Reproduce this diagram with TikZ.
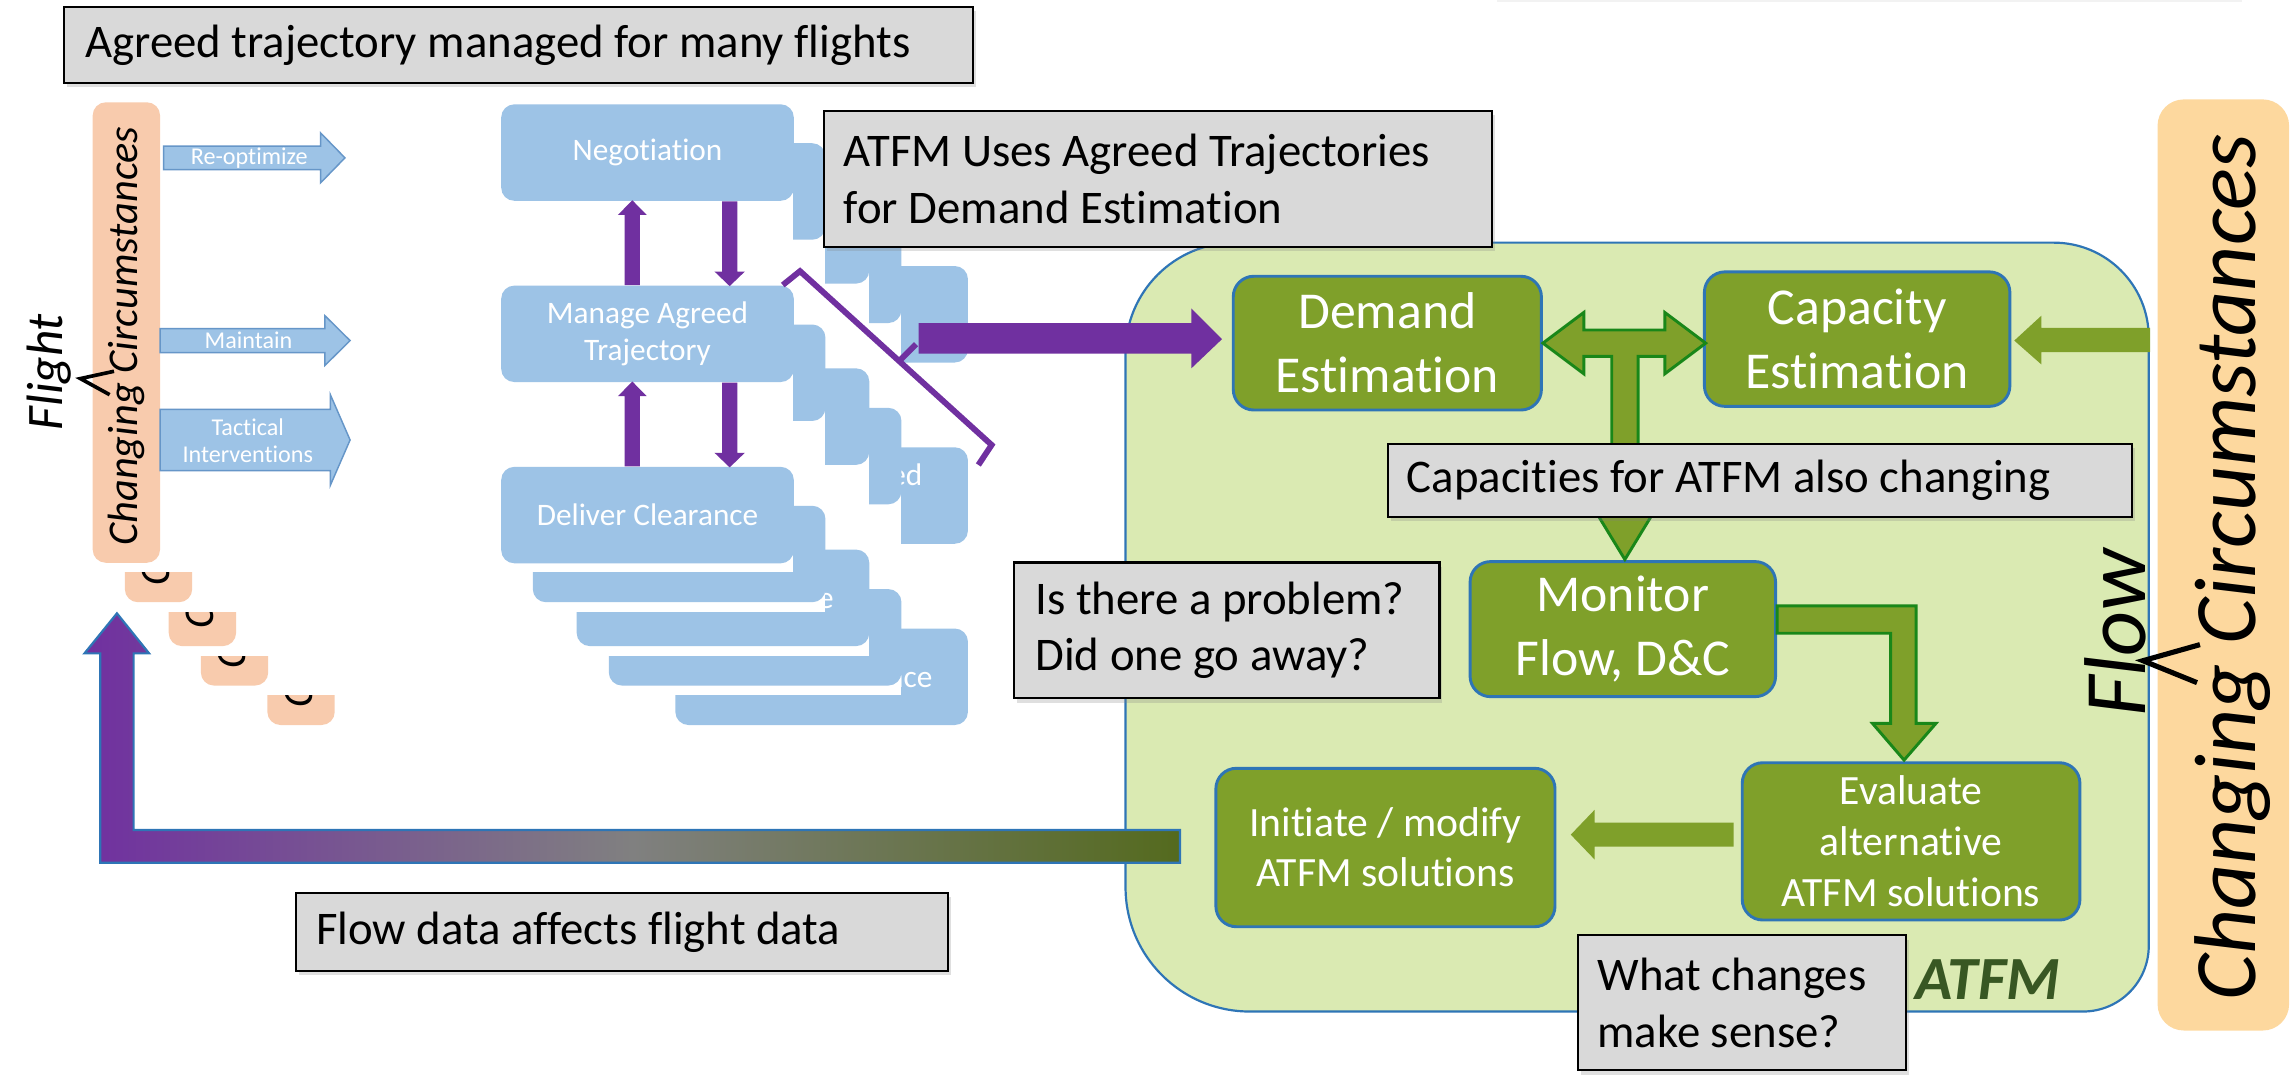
\documentclass[tikz,border=0pt]{standalone}
\usepackage{fontspec}
\setmainfont{Carlito}[Ligatures=NoCommon]
\usetikzlibrary{calc,shadows}

\definecolor{cardblue}{RGB}{157,195,230}
\definecolor{cardedge}{RGB}{102,150,200}
\definecolor{peach}{RGB}{248,203,173}
\definecolor{apricot}{RGB}{253,216,158}
\definecolor{boxgray}{RGB}{217,217,217}
\definecolor{atfmfill}{RGB}{218,234,178}
\definecolor{edgeblue}{RGB}{46,117,182}
\definecolor{boxolive}{RGB}{127,160,42}
\definecolor{leafgreen}{RGB}{25,135,25}
\definecolor{purp}{RGB}{112,48,160}
\definecolor{midgray}{RGB}{128,128,128}
\definecolor{darkolive}{RGB}{84,106,30}
\definecolor{atfmlabel}{RGB}{56,87,35}

\tikzset{every picture/.style={line width=0.75pt}}

\begin{document}
\begin{tikzpicture}[x=1pt,y=1pt,yscale=-1,xscale=1,
	graybox/.style={draw=black, line width=1.5, fill=boxgray, anchor=north west, inner sep=0,
		drop shadow={shadow xshift=2pt, shadow yshift=-3pt, opacity=0.25}},
	graytext/.style={anchor=west, align=left, inner sep=0, font=\fontsize{32}{38.8}\selectfont},
	greenbox/.style={draw=edgeblue, line width=2, fill=boxolive, rounded corners=14, text=white, align=center, inner sep=0},
	cardbg/.style={fill=cardblue, rounded corners=9},
	cardnode/.style={cardbg, anchor=north west, minimum width=200.2, minimum height=66, inner sep=0, text=white, align=center, font=\fontsize{21.4}{25}\selectfont},
	cardtext/.style={text=white, align=center, inner sep=0, font=\fontsize{21.4}{25}\selectfont},
	bluearrow/.style={fill=cardblue, draw=cardedge, line width=1},
	arrowtext/.style={text=white, align=center, inner sep=0, font=\fontsize{16.5}{19}\selectfont},
	peachbar/.style={fill=peach, rounded corners=9},
	flightcirc/.style={rotate=90, inner sep=0, font=\itshape\fontsize{29}{29}\selectfont},
	bigtext/.style={rotate=90, inner sep=0, font=\itshape\fontsize{60}{60}\selectfont},
	gflat/.style={fill=boxolive},
	goutline/.style={fill=boxolive, draw=leafgreen, line width=2, line join=miter}]
	\useasboundingbox (0,0) rectangle (1568,735);

	%Shape: faint edge at the top
	\fill[black!5] (1024,0) rectangle (1534,1.5);

	%Shape: ATFM area
	\draw[edgeblue, fill=atfmfill, line width=1.5] (770,241) arc[start angle=180, end angle=270, radius=75] -- (1405,166) arc[start angle=270, end angle=360, radius=65] -- (1470,647) arc[start angle=0, end angle=90, radius=45] -- (855,692) arc[start angle=90, end angle=180, radius=85] -- cycle;

	%Shape: flight circumstances, stacked copies
	\fill[peachbar] (182.9,181) rectangle (229,496);
	\node[flightcirc] (fc4) at (206,341) {Changing Circumstances};
	\fill[white] (137.4,154) rectangle (229,475.5);
	\fill[peachbar] (137.4,154) rectangle (183.5,469);
	\node[flightcirc] (fc3) at (160.5,314) {Changing Circumstances};
	\fill[white] (115.4,127) rectangle (229,448.5);
	\fill[peachbar] (115.4,127) rectangle (161.5,442);
	\node[flightcirc] (fc2) at (138.5,287) {Changing Circumstances};
	\fill[white] (85.4,97) rectangle (229,418.5);
	\fill[peachbar] (85.4,97) rectangle (131.5,412);
	\node[flightcirc] (fc1) at (108.5,257) {Changing Circumstances};
	\fill[white] (63.4,70) rectangle (229,391.5);
	\fill[peachbar] (63.4,70) rectangle (109.5,385);
	\node[flightcirc] (fc0) at (86.5,230) {Changing Circumstances};

	% Text Node
	\node[rotate=90, inner sep=0, font=\itshape\fontsize{35}{35}\selectfont] (flight) at (33.5,254.5) {Flight};
	%Straight Lines: caret
	\draw[line width=2.5] (78,254) -- (55,259) -- (75,270);

	%Shape: Right Arrows
	\draw[bluearrow] (112,100) -- (219.4,100) -- (219.4,91) -- (236,108) -- (219.4,125) -- (219.4,116) -- (112,116) -- cycle;
	\draw[bluearrow] (109.5,224.75) -- (222.3,224.75) -- (222.3,216) -- (239.5,233) -- (222.3,250) -- (222.3,241.25) -- (109.5,241.25) -- cycle;
	\draw[bluearrow] (109.5,280) -- (226,280) -- (226,270) -- (239.5,301) -- (226,332) -- (226,322) -- (109.5,322) -- cycle;
	% Text Node
	\node[arrowtext] (reopt) at (170.5,108) {Re-optimize};
	\node[arrowtext] (maint) at (170,233) {Maintain};
	\node[arrowtext] (tact) at (169.5,301.5) {Tactical\\Interventions};

	%Shape: Negotiation stack
	\fill[cardbg] (462,182) rectangle (662.2,248);
	\fill[white] (416.5,155) rectangle (616.7,248);
	\fill[cardbg] (416.5,155) rectangle (616.7,221);
	\fill[white] (394.5,128) rectangle (594.7,248);
	\fill[cardbg] (394.5,128) rectangle (594.7,194);
	\fill[white] (364.5,98) rectangle (564.7,248);
	\fill[cardbg] (364.5,98) rectangle (564.7,164);
	\fill[white] (342.5,71) rectangle (542.7,248);
	\node[cardnode] (neg) at (342.5,71) {Negotiation};

	%Shape: Manage stack
	\fill[cardbg] (462,306) rectangle (662.2,372);
	\node[cardtext] (man4txt) at (562.1,339) {Manage Agreed\\Trajectory};
	\fill[white] (416.5,279) rectangle (616.7,372);
	\fill[cardbg] (416.5,279) rectangle (616.7,345);
	\fill[white] (394.5,252) rectangle (594.7,372);
	\fill[cardbg] (394.5,252) rectangle (594.7,318);
	\fill[white] (364.5,222) rectangle (564.7,372);
	\fill[cardbg] (364.5,222) rectangle (564.7,288);
	\fill[white] (342.5,195) rectangle (542.7,372);
	\node[cardnode] (man) at (342.5,195) {Manage Agreed\\Trajectory};

	%Shape: Deliver stack
	\fill[cardbg] (462,430) rectangle (662.2,496);
	\node[cardtext] (del4txt) at (562.1,463) {Deliver Clearance};
	\fill[white] (416.5,403) rectangle (616.7,475.5);
	\fill[cardbg] (416.5,403) rectangle (616.7,469);
	\fill[white] (394.5,376) rectangle (594.7,448.5);
	\fill[cardbg] (394.5,376) rectangle (594.7,442);
	\node[cardtext] (del2txt) at (494.6,409) {Deliver Clearance};
	\fill[white] (364.5,346) rectangle (564.7,418.5);
	\fill[cardbg] (364.5,346) rectangle (564.7,412);
	\fill[white] (342.5,319) rectangle (542.7,391.5);
	\node[cardnode] (del) at (342.5,319) {Deliver Clearance};

	%Shape: up and down arrows between the cards
	\fill[purp] ($(man.north)+(-15.6,0)$) -- ++(0,-48) -- ++(-4.6,0) -- ++(9.8,-10) -- ++(9.8,10) -- ++(-4.6,0) -- ++(0,48) -- cycle;
	\fill[purp] ($(neg.south)+(51,0)$) -- ++(0,48) -- ++(-5.2,0) -- ++(10.4,10) -- ++(10.4,-10) -- ++(-5.2,0) -- ++(0,-48) -- cycle;
	\fill[purp] ($(del.north)+(-15.6,0)$) -- ++(0,-48) -- ++(-4.6,0) -- ++(9.8,-10) -- ++(9.8,10) -- ++(-4.6,0) -- ++(0,48) -- cycle;
	\fill[purp] ($(man.south)+(51,0)$) -- ++(0,48) -- ++(-5.2,0) -- ++(10.4,10) -- ++(10.4,-10) -- ++(-5.2,0) -- ++(0,-48) -- cycle;

	%Straight Lines: bracket
	\draw[purp, line width=4] (535.5,195) -- (547.3,185.5) -- (678.4,304.4) -- (669.3,318.1);
	\draw[purp, line width=4] (615.9,246.3) -- (626.7,235.5);

	%Shape: green boxes
	\node[greenbox, minimum width=210.8, minimum height=91.5, font=\fontsize{35.4}{43.8}\selectfont] (dem) at (949.1,234.75) {Demand\\Estimation};
	\node[greenbox, minimum width=209, minimum height=92, font=\fontsize{35.4}{43.8}\selectfont] (cap) at (1270.5,232) {Capacity\\Estimation};
	\node[greenbox, minimum width=209, minimum height=92.4, font=\fontsize{35.4}{43.8}\selectfont] (mon) at (1110.2,430.4) {Monitor\\Flow, D\&C};
	\node[greenbox, minimum width=231, minimum height=107.6, font=\fontsize{28.5}{35}\selectfont] (eva) at (1307.4,575.6) {Evaluate\\alternative\\ATFM solutions};
	\node[greenbox, minimum width=232, minimum height=108.4, font=\fontsize{28.5}{34.2}\selectfont] (ini) at (947.8,579.8) {Initiate / modify\\ATFM solutions};

	%Shape: arrow into Demand Estimation
	\fill[purp] ($(dem.west)+(-6.7,-2.75)$) -- ++(-21,-21) -- ++(0,10) -- ++(-186.5,0) -- ++(0,21) -- ++(186.5,0) -- ++(0,10) -- cycle;
	%Shape: double arrow with stem down to Monitor
	\draw[goutline] (dem.east) -- ++(28,-21) -- ++(0,12) -- ++(55.4,0) -- ++(0,-12) -- ++(28,21) -- ++(-28,21) -- ++(0,-12) -- ++(-18.3,0) -- ++(0,107) -- ++(10.5,0) -- ++(-19.5,32) -- ++(-19.5,-32) -- ++(10.5,0) -- ++(0,-107) -- ++(-19.1,0) -- ++(0,12) -- cycle;
	%Shape: arrow into Capacity Estimation
	\fill[gflat] ($(cap.east)+(2,1)$) -- ++(18.5,-17) -- ++(0,8.3) -- ++(74.5,0) -- ++(0,16.6) -- ++(-74.5,0) -- ++(0,8.4) -- cycle;
	%Shape: bent arrow Monitor to Evaluate
	\draw[goutline] ($(mon.east)+(0,-15.9)$) -- ++(95.1,0) -- ++(0,80.4) -- ++(13.6,0) -- ++(-21.8,25.1) -- ++(-21.6,-25.1) -- ++(12.4,0) -- ++(0,-61.7) -- ++(-77.7,0) -- cycle;
	%Shape: arrow Evaluate to Initiate
	\fill[gflat] ($(ini.east)+(9.8,-8.8)$) -- ++(16.3,-17) -- ++(0,8.8) -- ++(95.1,0) -- ++(0,16.4) -- ++(-95.1,0) -- ++(0,8.8) -- cycle;

	%Shape: feedback arrow back to the flight side
	\draw[edgeblue, line width=1.5, left color=purp, right color=darkolive, middle color=midgray] ($(ini.west)+(-23.5,-12)$) -- ++(-715.9,0) -- ++(0,-120.8) -- ++(10.6,0) -- ++(-22,-27.4) -- ++(-22.2,27.4) -- ++(10.8,0) -- ++(0,143.2) -- ++(738.7,0) -- cycle;

	%Shape: gray note boxes
	\node[graybox, minimum width=622, minimum height=52] (agreed) at (43,4) {};
	\node[graybox, minimum width=457, minimum height=93] (uses) at (563,75) {};
	\node[graybox, minimum width=509, minimum height=50] (capch) at (948.6,303) {};
	\node[graybox, minimum width=291, minimum height=93] (problem) at (693,384) {};
	\node[graybox, minimum width=224, minimum height=92.5] (sense) at (1079,639) {};
	\node[graybox, minimum width=446, minimum height=53.6] (flowdata) at (202,610) {};
	% Text Node
	\node[graytext] (agreedtxt) at ([xshift=15]agreed.west) {Agreed trajectory managed for many flights};
	\node[graytext] (usestxt) at ([xshift=14]uses.west) {ATFM Uses Agreed Trajectories\\for Demand Estimation};
	\node[graytext] (capchtxt) at ([xshift=13.5]capch.west) {Capacities for ATFM also changing};
	\node[graytext] (problemtxt) at ([xshift=15]problem.west) {Is there a problem?\\Did one go away?};
	\node[graytext] (sensetxt) at ([xshift=13.5]sense.west) {What changes\\make sense?};
	\node[graytext] (flowdatatxt) at ([xshift=14]flowdata.west) {Flow data affects flight data};

	%Shape: flow circumstances
	\fill[apricot, rounded corners=18] (1476,68) rectangle (1566,705);
	% Text Node
	\node[bigtext] (rcirc) at (1527,388) {Changing Circumstances};
	\node[bigtext] (flow) at (1447,433) {Flow};
	%Straight Lines: caret
	\draw[line width=3.5] (1505,441) -- (1466,452) -- (1503,467);

	% Text Node
	\node[anchor=base west, inner sep=0, text=atfmlabel, font=\bfseries\itshape\fontsize{42}{42}\selectfont] (atfmlbl) at (1310,684) {ATFM};
\end{tikzpicture}
\end{document}
